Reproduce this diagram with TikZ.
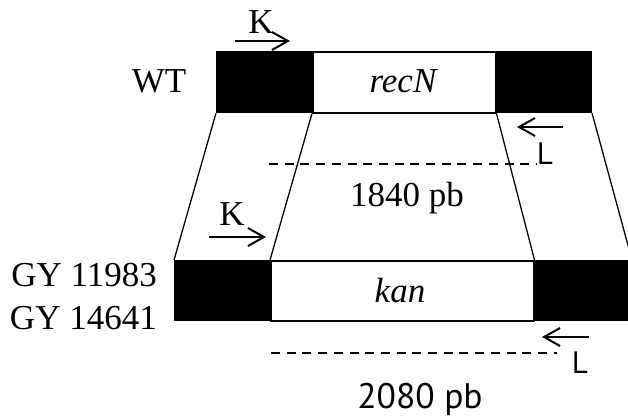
\documentclass[tikz,border=0pt]{standalone}
\usepackage{fontspec}
\setmainfont{Liberation Serif}
\newfontfamily\sansf{PT Sans}
\usetikzlibrary{arrows.meta}
\begin{document}
\begin{tikzpicture}[x=1pt,y=-1pt,
  serif/.style={font=\fontsize{35}{38}\selectfont, inner sep=0pt},
  sanslab/.style={font=\sansf\fontsize{35.5}{38}\selectfont, inner sep=0pt},
  sansL/.style={font=\sansf\fontsize{31}{34}\selectfont, inner sep=0pt},
  blk/.style={fill=black, draw=black, line width=1pt},
  wht/.style={fill=white, draw=black, line width=1.5pt},
  link/.style={line width=1.3pt},
  primer/.style={line width=2pt, -{Straight Barb[length=16pt,width=18pt,line width=2pt]}},
  dashln/.style={line width=2.3pt, dash pattern=on 9pt off 6.7pt}]
\useasboundingbox (0,0) rectangle (628,418);
% top bar
\node[blk, minimum width=96pt, minimum height=61pt, inner sep=0pt, anchor=north west] (tl) at (216,51) {};
\node[wht, minimum width=183pt, minimum height=61pt, inner sep=0pt, anchor=north west] (tm) at (312,51) {};
\node[blk, minimum width=96pt, minimum height=61pt, inner sep=0pt, anchor=north west] (tr) at (495,51) {};
% bottom bar
\node[blk, minimum width=96pt, minimum height=60pt, inner sep=0pt, anchor=north west] (bl) at (174,260) {};
\node[wht, minimum width=263pt, minimum height=60pt, inner sep=0pt, anchor=north west] (bm) at (270,260) {};
\node[blk, minimum width=98pt, minimum height=60pt, inner sep=0pt, anchor=north west] (br) at (533,260) {};
% links
\draw[link] (tl.south west) -- (bl.north west);
\draw[link] (tm.south west) -- (bm.north west);
\draw[link] (tm.south east) -- (bm.north east);
\draw[link] (tr.south east) -- (br.north east);
% texts
\node[serif, font=\fontsize{35}{38}\selectfont\itshape] (recn) at (403,81.5) {recN};
\node[serif, font=\fontsize{35}{38}\selectfont\itshape] (kan) at (400,290.5) {kan};
\node[serif] (wt) at (159,81.5) {WT};
\node[serif, anchor=east] (gy1) at (157,275.5) {GY 11983};
\node[serif, anchor=east] (gy2) at (157,318) {GY 14641};
\node[serif] (p1840) at (407,198.5) {1840 pb};
\node[sanslab] (p2080) at (420,399) {2080 pb};
% primers
\coordinate (k1s) at (235,41); \coordinate (k1e) at (290,41);
\draw[primer] (k1s) -- (k1e);
\node[serif] (k1) at (261,22) {K};
\coordinate (k2s) at (209,237); \coordinate (k2e) at (266,237);
\draw[primer] (k2s) -- (k2e);
\node[serif] (k2) at (232,214) {K};
\coordinate (l1s) at (563,127); \coordinate (l1e) at (517,127);
\draw[primer] (l1s) -- (l1e);
\node[sansL] (l1) at (545,153.5) {L};
\coordinate (l2s) at (589,337); \coordinate (l2e) at (542,337);
\draw[primer] (l2s) -- (l2e);
\node[sansL] (l2) at (580,362.5) {L};
% dashed
\coordinate (d1s) at (269,164); \coordinate (d1e) at (537,164);
\draw[dashln] (d1s) -- (d1e);
\coordinate (d2s) at (271,353); \coordinate (d2e) at (557,353);
\draw[dashln] (d2s) -- (d2e);
\end{tikzpicture}
\end{document}
